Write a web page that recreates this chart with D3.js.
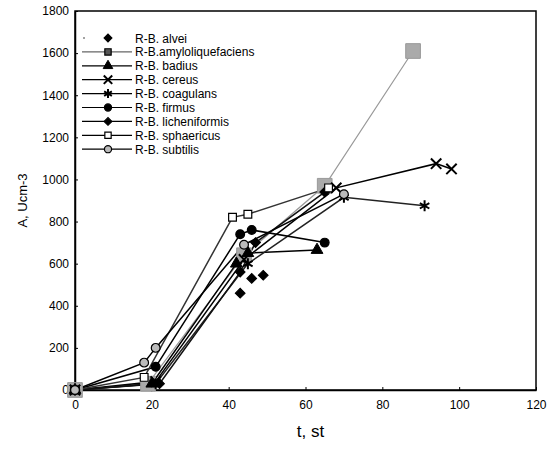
<!DOCTYPE html>
<html>
<head>
<meta charset="utf-8">
<script src="https://cdn.jsdelivr.net/npm/d3@7"></script>
<style>
body { margin: 0; background: #fff; }
text { font-family: "Liberation Sans", Arial, sans-serif; }
</style>
</head>
<body>
<script>
const width = 551;
const height = 449;

// data: [t, A]
const alvei = [[0,0],[20,20],[43,460],[46,530],[49,545]];
const amylo = [[0,0],[19,30],[44,640],[65,970],[88,1610]];
const badius = [[0,0],[20,30],[42,600],[45,650],[63,665]];
const cereus = [[0,0],[21,40],[44,620],[68,960],[94,1075],[98,1050]];
const coagulans = [[0,0],[21,30],[45,600],[70,915],[91,875]];
const firmus = [[0,0],[21,110],[43,740],[46,760],[65,700]];
const licheni = [[0,0],[22,30],[43,560],[47,700],[65,940]];
const sphaer = [[0,0],[18,60],[41,820],[45,835],[66,960]];
const subtilis = [[0,0],[18,130],[21,200],[44,690],[70,930]];

const names = ['R-B. alvei','R-B.amyloliquefaciens','R-B. badius','R-B. cereus','R-B. coagulans',
  'R-B. firmus','R-B. licheniformis','R-B. sphaericus','R-B. subtilis'];
const xTicks = [0,20,40,60,80,100,120];
const yTicks = [0,200,400,600,800,1000,1200,1400,1600,1800];

const series = [
  {name: names[0], data: alvei, kind: 'diamond', fill: '#000', line: null},
  {name: names[1], data: amylo, kind: 'bigsquare', fill: '#aaa', line: '#999'},
  {name: names[2], data: badius, kind: 'triangle', fill: '#000', line: '#000'},
  {name: names[3], data: cereus, kind: 'x', fill: 'none', line: '#000'},
  {name: names[4], data: coagulans, kind: 'star', fill: 'none', line: '#222'},
  {name: names[5], data: firmus, kind: 'circle', fill: '#000', line: '#000'},
  {name: names[6], data: licheni, kind: 'diamond', fill: '#000', line: '#111'},
  {name: names[7], data: sphaer, kind: 'square', fill: '#fff', line: '#333'},
  {name: names[8], data: subtilis, kind: 'circle', fill: '#bbb', line: '#000'}
];

const margin = {left: 75, top: 11, right: 15, bottom: 59};
const x = d3.scaleLinear().domain([0,120]).range([margin.left, width - margin.right]);
const y = d3.scaleLinear().domain([0,1800]).range([height - margin.bottom, margin.top]);

const svg = d3.select('body').append('svg').attr('width', width).attr('height', height);

// frame
svg.append('rect')
  .attr('x', x(0)).attr('y', y(1800))
  .attr('width', x(120) - x(0)).attr('height', y(0) - y(1800))
  .attr('fill', 'none').attr('stroke', '#000').attr('stroke-width', 1.5);

const xAxis = svg.append('g').attr('transform', `translate(0,${y(0)})`)
  .call(d3.axisBottom(x).tickValues(xTicks).tickFormat(d3.format('d'))
    .tickSizeInner(-3).tickSizeOuter(0).tickPadding(10));
const yAxis = svg.append('g').attr('transform', `translate(${x(0)},0)`)
  .call(d3.axisLeft(y).tickValues(yTicks).tickFormat(d3.format('d'))
    .tickSizeInner(-3).tickSizeOuter(0).tickPadding(6));
[xAxis, yAxis].forEach(a => {
  a.select('.domain').attr('stroke-width', 1.5);
  a.selectAll('text').attr('font-size', 12).attr('fill', '#000');
});

svg.append('text').attr('x', (x(0) + x(120)) / 2 + 5).attr('y', 437)
  .attr('text-anchor', 'middle').attr('font-size', 17).text('t, st');
svg.append('text').attr('transform', `translate(27,${y(900)}) rotate(-90)`)
  .attr('text-anchor', 'middle').attr('font-size', 13).text('A, Ucm-3');

const line = d3.line().x(d => x(d[0])).y(d => y(d[1]));

function marker(g, s, size) {
  if (s.kind === 'x') {
    g.append('path').attr('d', d3.symbol(d3.symbolX, size * 1.2)())
      .attr('fill', 'none').attr('stroke', '#000').attr('stroke-width', 2);
  } else if (s.kind === 'star') {
    g.append('path').attr('d', d3.symbol(d3.symbolAsterisk, size * 1.4)())
      .attr('fill', 'none').attr('stroke', '#000').attr('stroke-width', 2);
  } else if (s.kind === 'diamond') {
    g.append('path').attr('d', d3.symbol(d3.symbolSquare, size * 0.8)())
      .attr('transform', 'rotate(45)')
      .attr('fill', s.fill).attr('stroke', '#000').attr('stroke-width', 1);
  } else if (s.kind === 'bigsquare') {
    g.append('path').attr('d', d3.symbol(d3.symbolSquare, size * 3.6)())
      .attr('fill', s.fill).attr('stroke', '#999').attr('stroke-width', 1);
  } else if (s.kind === 'square') {
    g.append('path').attr('d', d3.symbol(d3.symbolSquare, size)())
      .attr('fill', s.fill).attr('stroke', '#000').attr('stroke-width', 1.2);
  } else if (s.kind === 'triangle') {
    g.append('path').attr('d', d3.symbol(d3.symbolTriangle, size)())
      .attr('fill', s.fill).attr('stroke', '#000').attr('stroke-width', 1);
  } else {
    g.append('path').attr('d', d3.symbol(d3.symbolCircle, size)())
      .attr('fill', s.fill).attr('stroke', '#000').attr('stroke-width', 1.2);
  }
}

series.forEach(s => {
  if (s.line) {
    svg.append('path').datum(s.data).attr('d', line)
      .attr('fill', 'none').attr('stroke', s.line)
      .attr('stroke-width', s.kind === 'bigsquare' ? 1.2 : 1.5);
  }
});
series.forEach(s => {
  s.data.forEach(d => {
    const g = svg.append('g').attr('transform', `translate(${x(d[0])},${y(d[1])})`);
    marker(g, s, 60);
  });
});

// legend
const leg = svg.append('g');
series.forEach((s, i) => {
  const ly = 38 + i * 13.9;
  const g = leg.append('g').attr('transform', `translate(0,${ly})`);
  if (s.line) {
    g.append('line').attr('x1', 82).attr('x2', 132).attr('y1', 0).attr('y2', 0)
      .attr('stroke', s.line === '#999' ? '#666' : '#000').attr('stroke-width', 1.2);
  } else {
    g.append('circle').attr('cx', 84).attr('cy', 0).attr('r', 0.7).attr('fill', '#000');
  }
  const m = g.append('g').attr('transform', 'translate(108,0)');
  marker(m, Object.assign({}, s, {kind: s.kind === 'bigsquare' ? 'square' : s.kind,
    fill: s.kind === 'bigsquare' ? '#555' : s.fill}), 40);
  g.append('text').attr('x', 135).attr('y', 4.5).attr('font-size', 12).text(s.name);
});
</script>
</body>
</html>
